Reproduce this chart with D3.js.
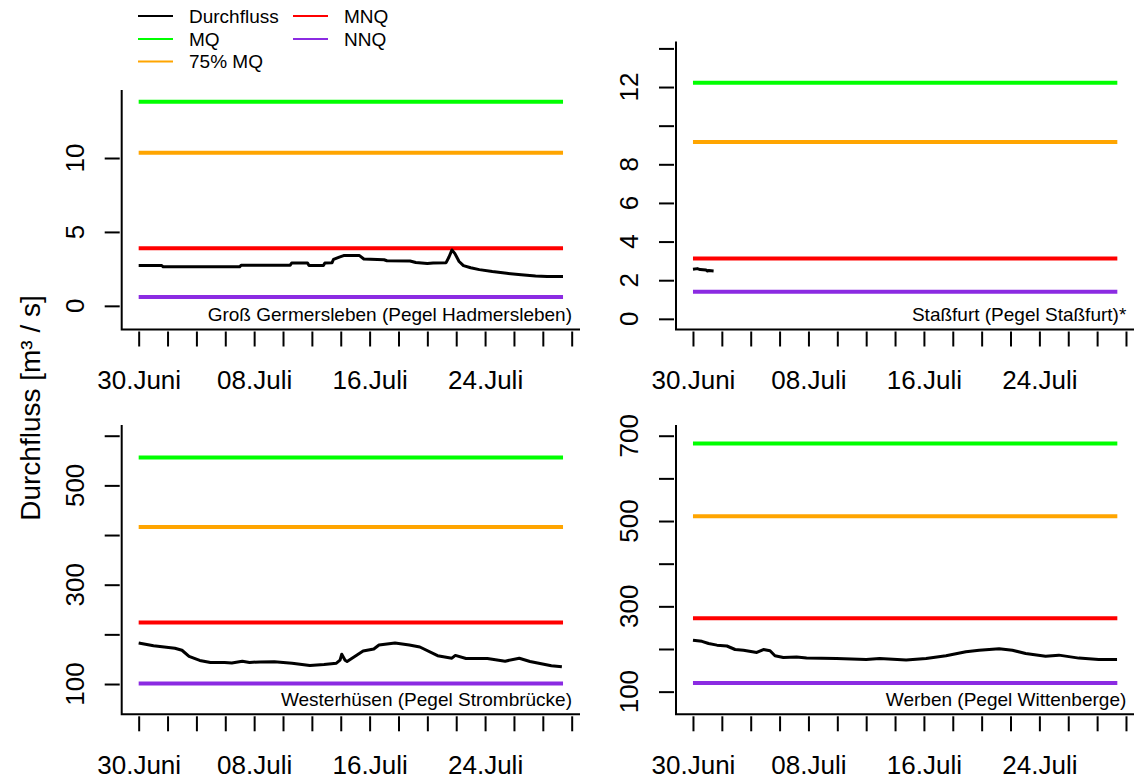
<!DOCTYPE html>
<html>
<head>
<meta charset="utf-8">
<script src="https://cdn.jsdelivr.net/npm/d3@7"></script>
<style>
  body { margin: 0; background: #fff; }
  svg { display: block; font-family: "Liberation Sans", Arial, Helvetica, sans-serif; }
</style>
</head>
<body>
<svg id="chart" width="1134" height="780"></svg>
<script>
// ---- data ----
var startDate = new Date(Date.UTC(2022, 5, 30));   // 30. Juni
var periodDays = 29.4;                               // data runs until ~29. Juli

var xTickLabels = ["30.Juni", "08.Juli", "16.Juli", "24.Juli"];

var panelTitles = [
  "Groß Germersleben (Pegel Hadmersleben)",
  "Staßfurt (Pegel Staßfurt)*",
  "Westerhüsen (Pegel Strombrücke)",
  "Werben (Pegel Wittenberge)"
];

var legendLabels = ["Durchfluss", "MQ", "75% MQ", "MNQ", "NNQ"];
var legendColors = ["#000000", "#00ff00", "#ffa500", "#ff0000", "#8b2be2"];

var mqValues    = [13.8, 12.22, 556, 682];
var mq75Values  = [10.35, 9.16, 416, 511];
var mnqValues   = [3.9, 3.12, 224, 272];
var nnqValues   = [0.6, 1.40, 101, 120];

var yLims = [[-1, 14], [0, 13.8], [60.6, 600], [72, 700]];
var yTicks = [
  [0, 5, 10],
  [0, 2, 4, 6, 8, 10, 12, 14],
  [100, 200, 300, 400, 500, 600],
  [100, 200, 300, 400, 500, 600, 700]
];
var yTickLabels = [
  ["0", "5", "10"],
  ["0", "2", "4", "6", "8", "", "12", ""],
  ["100", "", "300", "", "500", ""],
  ["100", "", "300", "", "500", "", "700"]
];

// Durchfluss: days since 30. Juni, m³/s
var glDays = [0, 1.6, 1.7, 7.0, 7.1, 10.5, 10.6, 11.7, 11.8, 12.8, 12.9, 13.4, 13.5, 13.9, 14.2, 15.3, 15.6, 17.0, 17.2, 18.8, 19.2, 20.0, 20.4, 21.3, 21.5, 21.7, 21.9, 22.2, 22.5, 23.0, 23.6, 24.5, 25.5, 26.5, 27.5, 28.3, 29.4];
var glFlow = [2.73, 2.73, 2.64, 2.64, 2.75, 2.75, 2.9, 2.9, 2.73, 2.73, 2.9, 2.92, 3.15, 3.3, 3.4, 3.4, 3.17, 3.12, 3.05, 3.03, 2.93, 2.87, 2.9, 2.92, 3.3, 3.78, 3.55, 3.0, 2.72, 2.58, 2.45, 2.32, 2.2, 2.1, 2.02, 1.98, 1.98];

var sfDays = [0, 0.3, 0.5, 0.9, 1.0, 1.1, 1.43];
var sfFlow = [2.57, 2.6, 2.55, 2.53, 2.48, 2.5, 2.48];

var whDays = [0, 1.03, 1.77, 2.51, 3.0, 3.49, 4.23, 4.97, 5.95, 6.45, 7.18, 7.68, 8.41, 9.4, 10.63, 11.86, 12.84, 13.7, 13.95, 14.07, 14.3, 14.44, 15.55, 16.29, 16.65, 17.76, 18.75, 19.48, 20.71, 21.7, 21.94, 22.68, 24.16, 25.39, 26.37, 27.11, 28.59, 29.32];
var whFlow = [182.7, 177, 174.6, 172, 168, 155.6, 147.5, 143.4, 143.4, 142.5, 146, 143.5, 144.5, 144.7, 142, 137.3, 139.5, 142, 148, 160, 148, 145.4, 166.4, 170.5, 178.6, 182.7, 178.6, 174.6, 157, 152, 157.6, 151.5, 151.5, 146, 152, 145.4, 136.6, 134.6];

var wbDays = [0, 0.62, 1.08, 1.66, 2.35, 2.92, 3.5, 4.42, 4.88, 5.34, 5.68, 6.26, 7.18, 7.87, 9.94, 12.0, 12.93, 14.77, 16.15, 17.53, 18.91, 19.83, 21.21, 22.13, 23.05, 24.43, 25.35, 26.73, 28.11, 29.38];
var wbFlow = [220.6, 218, 212.8, 209, 207, 198.8, 197, 191.8, 198.8, 195.7, 184, 180, 181, 178.6, 177.8, 175.5, 177.8, 174, 177.8, 184, 193.4, 197, 200.4, 197, 189.5, 183.2, 185.6, 178.6, 175.5, 175.5];

var flowDays = [glDays, sfDays, whDays, wbDays];
var flowValues = [glFlow, sfFlow, whFlow, wbFlow];

// ---- layout ----
var boxes = [
  { x0: 121.7, x1: 580,    y0: 90,   y1: 329.5 },
  { x0: 676,   x1: 1134.3, y0: 41.6, y1: 329.5 },
  { x0: 121.7, x1: 580,    y0: 425,  y1: 714.3 },
  { x0: 676,   x1: 1134.3, y0: 425,  y1: 714.3 }
];

var svg = d3.select('#chart');

function dayToDate(d) {
  return new Date(startDate.getTime() + d * 864e5);
}

// R style 4% axis extension
function extend(a, b) {
  var r = b - a;
  return [a - 0.04 * r, b + 0.04 * r];
}

var endDate = dayToDate(periodDays);
var xExt = extend(startDate.getTime(), endDate.getTime());
var xTickDates = d3.utcDay.range(startDate, dayToDate(periodDays + 1), 2);

boxes.forEach(function (box, i) {
  var g = svg.append('g');

  var x = d3.scaleUtc()
      .domain([new Date(xExt[0]), new Date(xExt[1])])
      .range([box.x0, box.x1]);

  var y = d3.scaleLinear()
      .domain(extend(yLims[i][0], yLims[i][1]))
      .range([box.y1, box.y0]);

  // reference lines
  var refs = [
    [mqValues[i], legendColors[1]],
    [mq75Values[i], legendColors[2]],
    [mnqValues[i], legendColors[3]],
    [nnqValues[i], legendColors[4]]
  ];
  refs.forEach(function (r) {
    g.append('line')
        .attr('x1', x(startDate))
        .attr('x2', x(endDate))
        .attr('y1', y(r[0]))
        .attr('y2', y(r[0]))
        .attr('stroke', r[1])
        .attr('stroke-width', 4);
  });

  // Durchfluss
  var line = d3.line()
      .x(function (d) { return x(dayToDate(d[0])); })
      .y(function (d) { return y(d[1]); });

  g.append('path')
      .datum(d3.zip(flowDays[i], flowValues[i]))
      .attr('d', line)
      .attr('fill', 'none')
      .attr('stroke', legendColors[0])
      .attr('stroke-width', 3)
      .attr('stroke-linejoin', 'round');

  // L-shaped box
  g.append('path')
      .attr('d', 'M' + box.x0 + ',' + box.y0 + 'V' + box.y1 + 'H' + box.x1)
      .attr('fill', 'none')
      .attr('stroke', '#000')
      .attr('stroke-width', 2);

  // x axis ticks + labels
  var xAxis = d3.axisBottom(x)
      .tickValues(xTickDates)
      .tickSize(15)
      .tickPadding(24)
      .tickFormat(function (d, k) { return k % 4 === 0 ? xTickLabels[k / 4] : ''; });

  var xg = g.append('g')
      .attr('transform', 'translate(0,' + (box.y1 + 2) + ')')
      .call(xAxis);
  xg.select('.domain').remove();
  xg.selectAll('.tick line').attr('stroke', '#000').attr('stroke-width', 2);
  xg.selectAll('.tick text')
      .attr('fill', '#000')
      .style('font-size', '26px')
      .style('font-family', '"Liberation Sans", Arial, sans-serif');

  // y axis ticks
  var yAxis = d3.axisLeft(y)
      .tickValues(yTicks[i])
      .tickSize(15)
      .tickFormat('');

  var yg = g.append('g')
      .attr('transform', 'translate(' + (box.x0 - 2) + ',0)')
      .call(yAxis);
  yg.select('.domain').remove();
  yg.selectAll('.tick line').attr('stroke', '#000').attr('stroke-width', 2);

  yTicks[i].forEach(function (t, k) {
    if (!yTickLabels[i][k]) return;
    g.append('text')
        .attr('transform', 'translate(' + (box.x0 - 47) + ',' + y(t) + ') rotate(-90)')
        .attr('text-anchor', 'middle')
        .attr('dy', '0.36em')
        .style('font-size', '26px')
        .text(yTickLabels[i][k]);
  });

  // panel title (bottom right)
  g.append('text')
      .attr('x', box.x1 - 8)
      .attr('y', box.y1 - 8.5)
      .attr('text-anchor', 'end')
      .style('font-size', '19px')
      .text(panelTitles[i]);
});

// y axis title
svg.append('text')
    .attr('transform', 'translate(30,408) rotate(-90)')
    .attr('text-anchor', 'middle')
    .attr('dy', '0.36em')
    .style('font-size', '28px')
    .text('Durchfluss [m³ / s]');

// legend
var legendPos = [
  { lx: 138, ly: 16 }, { lx: 138, ly: 39 }, { lx: 138, ly: 61.5 },
  { lx: 293, ly: 16 }, { lx: 293, ly: 39 }
];
var legend = svg.append('g');
legendLabels.forEach(function (lab, k) {
  var p = legendPos[k];
  legend.append('line')
      .attr('x1', p.lx).attr('x2', p.lx + 35)
      .attr('y1', p.ly).attr('y2', p.ly)
      .attr('stroke', legendColors[k])
      .attr('stroke-width', 2);
  legend.append('text')
      .attr('x', p.lx + 51)
      .attr('y', p.ly)
      .attr('dy', '0.36em')
      .style('font-size', '19px')
      .text(lab);
});
</script>
</body>
</html>
